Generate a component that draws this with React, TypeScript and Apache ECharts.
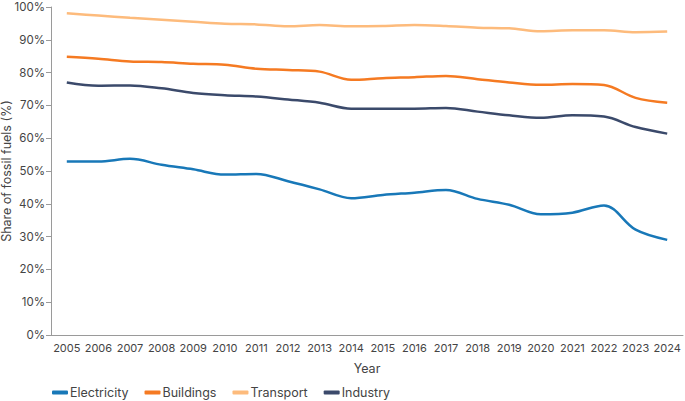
import React, { useEffect, useRef } from "react";
import * as echarts from "echarts";

const years = ["2005","2006","2007","2008","2009","2010","2011","2012","2013","2014","2015","2016","2017","2018","2019","2020","2021","2022","2023","2024"];
const electricity = [52.9, 52.9, 53.7, 51.9, 50.5, 48.9, 49.1, 46.9, 44.4, 41.7, 42.7, 43.4, 44.2, 41.5, 39.7, 36.8, 37.3, 39.5, 32.1, 29.0];
const buildings = [84.8, 84.2, 83.4, 83.2, 82.7, 82.4, 81.2, 80.8, 80.3, 77.8, 78.3, 78.6, 79.0, 78.0, 77.0, 76.3, 76.5, 76.2, 72.3, 70.8];
const transport = [98.1, 97.4, 96.7, 96.1, 95.5, 94.9, 94.7, 94.1, 94.5, 94.1, 94.2, 94.5, 94.2, 93.7, 93.5, 92.6, 92.9, 92.9, 92.3, 92.5];
const industry = [77.0, 76.0, 76.1, 75.2, 73.8, 73.1, 72.7, 71.8, 70.8, 69.0, 69.0, 69.0, 69.2, 68.1, 67.0, 66.2, 67.0, 66.6, 63.4, 61.4];

const seriesNames = ["Electricity", "Buildings", "Transport", "Industry"];
const seriesColors = ["#1878b8", "#f57a22", "#fdbb7c", "#3b4a6b"];
const seriesData = [electricity, buildings, transport, industry];

const FONT = "Inter";
const TEXT = "#444444";
const AXIS = "#9a9a9a";

export default function App() {
  const ref = useRef<HTMLDivElement>(null);
  useEffect(() => {
    if (!ref.current) return;
    const chart = echarts.init(ref.current, undefined, { renderer: "svg" });
    chart.setOption({
      animation: false,
      textStyle: { fontFamily: FONT },
      grid: { left: 51, right: 2, top: 7, bottom: 66, containLabel: false, outerBoundsMode: "none" },
      legend: {
        left: 47,
        bottom: -3,
        itemWidth: 16,
        itemHeight: 4,
        itemGap: 16,
        icon: "roundRect",
        textStyle: { fontFamily: FONT, fontSize: 12.5, color: TEXT, padding: [0, 0, 0, -3] },
        data: seriesNames,
      },
      xAxis: {
        type: "category",
        data: years,
        boundaryGap: true,
        name: "Year",
        nameLocation: "middle",
        nameGap: 27,
        nameMoveOverlap: false,
        nameTextStyle: { fontFamily: FONT, fontSize: 12.5, color: TEXT },
        axisLine: { lineStyle: { color: AXIS, width: 1 } },
        axisTick: { alignWithLabel: true, length: 5, lineStyle: { color: AXIS } },
        axisLabel: { fontFamily: FONT, fontSize: 11, color: TEXT, margin: 7, interval: 0 },
        splitLine: { show: false },
      },
      yAxis: {
        type: "value",
        min: 0,
        max: 100,
        interval: 10,
        name: "Share of fossil fuels (%)",
        nameLocation: "middle",
        nameGap: 38,
        nameMoveOverlap: false,
        nameTextStyle: { fontFamily: FONT, fontSize: 12.5, color: TEXT },
        axisLine: { show: true, lineStyle: { color: AXIS, width: 1 } },
        axisTick: { show: true, length: 5, lineStyle: { color: AXIS } },
        axisLabel: { fontFamily: FONT, fontSize: 11.5, color: TEXT, margin: 6, formatter: "{value}%" },
        splitLine: { show: false },
      },
      series: seriesNames.map((name, i) => ({
        name,
        type: "line",
        data: seriesData[i],
        smooth: 0.35,
        symbol: "none",
        lineStyle: { color: seriesColors[i], width: 2.5 },
        itemStyle: { color: seriesColors[i] },
      })),
    });
    return () => chart.dispose();
  }, []);
  return <div ref={ref} style={{ width: 685, height: 401, position: "absolute", left: 0, top: 0 }} />;
}
